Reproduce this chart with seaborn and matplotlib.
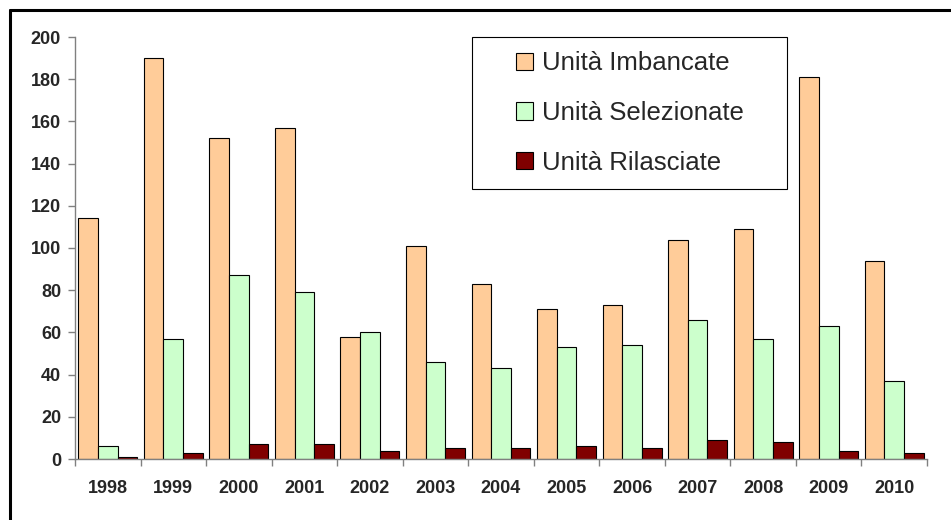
import numpy as np
import pandas as pd
import matplotlib
matplotlib.use("Agg")
import matplotlib.pyplot as plt
from matplotlib.lines import Line2D
from matplotlib.patches import Rectangle
import seaborn as sns

years = ['1998', '1999', '2000', '2001', '2002', '2003', '2004', '2005', '2006', '2007', '2008', '2009', '2010']
imbancate = [114, 190, 152, 157, 58, 101, 83, 71, 73, 104, 109, 181, 94]
selezionate = [6, 57, 87, 79, 60, 46, 43, 53, 54, 66, 57, 63, 37]
rilasciate = [1, 3, 7, 7, 4, 5, 5, 6, 5, 9, 8, 4, 3]
series = ['Unità Imbancate', 'Unità Selezionate', 'Unità Rilasciate']
colors = ['#FFCC99', '#CCFFCC', '#800000']

df = pd.DataFrame({
    'anno': years * 3,
    'valore': imbancate + selezionate + rilasciate,
    'serie': [series[0]] * len(years) + [series[1]] * len(years) + [series[2]] * len(years),
})

sns.set_style('white')
plt.rcParams['font.family'] = ['Liberation Sans', 'DejaVu Sans']

fig = plt.figure(figsize=(9.51, 5.2), dpi=100)
ax = fig.add_axes([75 / 951, 1 - 459 / 520, (927 - 75) / 951, (459 - 37) / 520])

sns.barplot(data=df, x='anno', y='valore', hue='serie', hue_order=series,
            palette=colors, width=0.9, gap=0, edgecolor='black', linewidth=0.8,
            saturation=1, ax=ax)

ax.set_ylim(0, 200)
ax.set_xlim(-0.5, len(years) - 0.5)
ax.set_yticks(np.arange(0, 201, 20))
ax.set_xlabel('')
ax.set_ylabel('')

for s in ['top', 'right']:
    ax.spines[s].set_visible(False)
for s in ['left', 'bottom']:
    ax.spines[s].set_color('#808080')
    ax.spines[s].set_linewidth(1)

ax.tick_params(axis='y', which='major', length=5, width=1, color='#808080',
               direction='out', left=True, labelsize=13, pad=5)
ax.tick_params(axis='x', which='major', length=0, labelsize=13, pad=15)
ax.set_xticks(np.arange(-0.5, len(years), 1), minor=True)
ax.tick_params(axis='x', which='minor', length=5, width=1, color='#808080',
               direction='out', bottom=True)
for lbl in ax.get_xticklabels() + ax.get_yticklabels():
    lbl.set_fontweight('bold')

ax.legend_.remove()
handles = [Rectangle((0, 0), 1, 1, facecolor=c, edgecolor='black', linewidth=0.8) for c in colors]
leg = fig.legend(handles, series, loc='center left',
                 bbox_to_anchor=(516 / 951, 1 - 113 / 520), fontsize=18.5,
                 frameon=False, handlelength=0.66, handleheight=0.66,
                 handletextpad=0.34, labelspacing=1.0, borderpad=0, borderaxespad=0)
fig.add_artist(Rectangle((472 / 951, 1 - 189 / 520), 315 / 951, 152 / 520,
                         transform=fig.transFigure, facecolor='none',
                         edgecolor='black', linewidth=0.8))

# cornice esterna
fig.add_artist(Line2D([10 / 951, 10 / 951], [-0.1, 1 - 10 / 520], color='black',
                      linewidth=2.2, transform=fig.transFigure))
fig.add_artist(Line2D([10 / 951, 1.1], [1 - 10 / 520, 1 - 10 / 520], color='black',
                      linewidth=2.2, transform=fig.transFigure))

fig.savefig('out.png', dpi=100)
